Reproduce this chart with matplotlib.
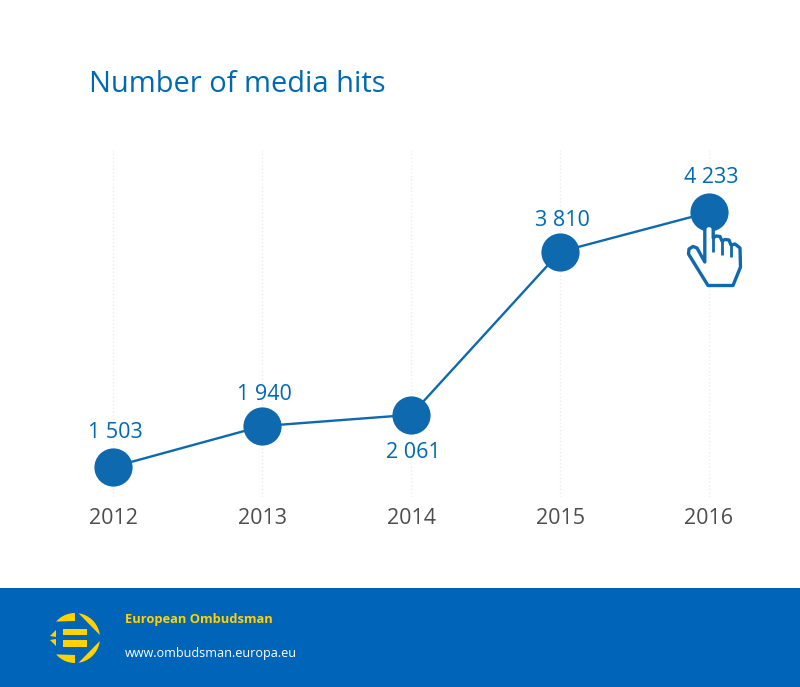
import numpy as np
import matplotlib
matplotlib.use("Agg")
import matplotlib.pyplot as plt
from matplotlib.patches import Polygon, Rectangle

# data
years = ["2012", "2013", "2014", "2015", "2016"]
hits = [1503, 1940, 2061, 3810, 4233]
hit_labels = ["1 503", "1 940", "2 061", "3 810", "4 233"]
label_offset = [25, 22.5, -27, 22.5, 25]

blue = "#0e69ae"
text_blue = "#0069b3"
footer_blue = "#0064b9"
gold = "#ffd200"

plt.rcParams["font.family"] = ["Open Sans", "DejaVu Sans"]

W, H = 800, 687
fig = plt.figure(figsize=(W / 100, H / 100), dpi=100, facecolor="white")

# overlay in pixel coords for footer, title and hand
bg = fig.add_axes([0, 0, 1, 1])
bg.set_xlim(0, W)
bg.set_ylim(H, 0)
bg.axis("off")
bg.add_patch(Rectangle((0, 588), W, H - 588, color=footer_blue, lw=0))
bg.text(89, 84, "Number of media hits", fontsize=20.9, color=text_blue, va="center", ha="left")
bg.text(125, 619, "European Ombudsman", fontsize=9.3, fontweight="bold", color=gold, va="center")
bg.text(125, 653, "www.ombudsman.europa.eu", fontsize=9.1, color="white", va="center")

# logo
cx, cy, r = 75, 638, 25


def arc(a0, a1, n=24):
    t = np.radians(np.linspace(a0, a1, n))
    return np.column_stack([cx + r * np.cos(t), cy - r * np.sin(t)])


for sy in (1, -1):
    left = np.vstack([arc(90, 139), [[75, cy - 17]]])
    right = arc(82, 7)
    for pts in (left, right):
        pts = pts.copy()
        pts[:, 1] = cy + sy * (pts[:, 1] - cy)
        bg.add_patch(Polygon(pts, color=gold, lw=0))
    bg.add_patch(Polygon([[50, cy - sy * 2], [56, cy - sy * 8], [56, cy - sy * 1]], color=gold, lw=0))
bg.add_patch(Rectangle((63, 629), 24, 6, color=gold, lw=0))
bg.add_patch(Rectangle((63, 640), 24, 7, color=gold, lw=0))

# chart
ax = fig.add_axes([89 / W, 1 - 497 / H, (735 - 89) / W, (497 - 150) / H])
ax.set_xlim(-0.164, 4.175)
ax.set_ylim(1179, 4902)
ax.patch.set_alpha(0)
for s in ax.spines.values():
    s.set_visible(False)
x = np.arange(len(years))
ax.set_xticks(x, years)
ax.set_yticks([])
ax.tick_params(axis="x", length=0, pad=8, labelsize=15.5, labelcolor="#4d4d4d")
ax.grid(axis="x", color="#ececec", linestyle=":", linewidth=1)
ax.set_axisbelow(True)
ax.plot(x, hits, color=blue, linewidth=1.7, marker="o", markersize=27.5,
        markerfacecolor=blue, markeredgewidth=0, clip_on=False, zorder=3)
for xi, v, lab, off in zip(x, hits, hit_labels, label_offset):
    ax.annotate(lab, (xi, v), xytext=(1.5, off), textcoords="offset points",
                ha="center", va="center", fontsize=15.5, color=text_blue, zorder=4)

# hand pointer on top of the last point
top = fig.add_axes([0, 0, 1, 1])
top.set_xlim(0, W)
top.set_ylim(H, 0)
top.axis("off")
t = np.radians(np.linspace(180, 0, 12))
fingertip = np.column_stack([709 + 4.2 * np.cos(t), 229 - 3.5 * np.sin(t)])
hand = np.vstack([
    [[704.8, 262]], fingertip,
    [[713.2, 238], [716, 236], [720, 236.5], [722, 241], [725, 239.5], [729, 240], [731, 245],
     [735, 244], [740, 248], [740.5, 267], [733, 285.5], [708, 285.5], [688.5, 254],
     [689, 249], [693, 246.5], [697, 248]],
])
top.add_patch(Polygon(hand, closed=True, facecolor="white", edgecolor=blue, lw=2.4, joinstyle="round"))
for fx, y0, y1 in [(713.2, 238, 252), (722, 241, 255), (731, 245, 257)]:
    top.plot([fx, fx], [y0, y1], color=blue, lw=2, solid_capstyle="butt")

fig.savefig("out.png", dpi=100)
